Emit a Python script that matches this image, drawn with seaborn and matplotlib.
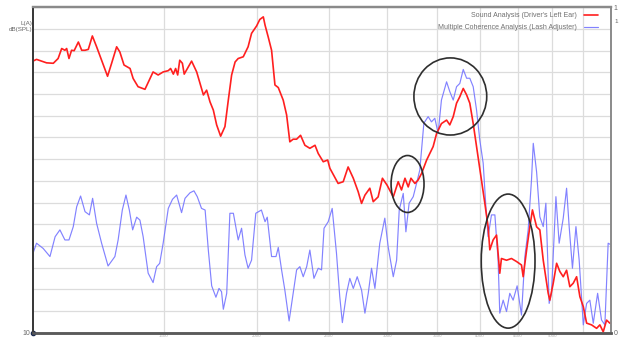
"""
Sound level vs. multiple coherence over engine speed (recreated chart).
"""

import numpy as np
import pandas as pd
import matplotlib
matplotlib.use("Agg")
import matplotlib.pyplot as plt
from matplotlib.patches import Ellipse
import seaborn as sns

# --- data ----------------------------------------------------------------------
# Sound Analysis (Driver's Left Ear): engine speed [rpm] and level [dB(SPL)]
red_rpm = [
    1000, 1011, 1027, 1043, 1065, 1081, 1093, 1104, 1110, 1118, 1127, 1136, 1151,
    1163, 1175, 1187, 1202, 1218, 1237, 1260, 1276, 1296, 1309, 1326, 1351, 1364,
    1385, 1415, 1451, 1474, 1497, 1521, 1532, 1545, 1556, 1566, 1576, 1589, 1598,
    1635, 1661, 1696, 1713, 1731, 1749, 1767, 1789, 1813, 1832, 1851, 1871, 1889,
    1919, 1948, 1969, 2000, 2020, 2042, 2053, 2073, 2095, 2117, 2139, 2172, 2195,
    2217, 2240, 2264, 2292, 2323, 2359, 2397, 2421, 2459, 2493, 2510, 2575, 2616,
    2656, 2699, 2740, 2769, 2798, 2841, 2871, 2915, 2954, 2997, 3055, 3102, 3134,
    3168, 3200, 3227, 3267, 3300, 3335, 3388, 3457, 3494, 3547, 3604, 3640, 3679,
    3717, 3755, 3795, 3835, 3873, 3914, 3955, 4016, 4058, 4099, 4121, 4164, 4208,
    4250, 4272, 4340, 4407, 4477, 4546, 4570, 4619, 4665, 4703, 4764, 4812, 4863,
    4938, 4963, 5016, 5069, 5120, 5174, 5228, 5281, 5337, 5393, 5448, 5506, 5563,
    5649, 5738, 5796, 5857, 5918, 5978,
]
red_db = [
    72.6, 73.0, 72.6, 72.2, 72.1, 73.2, 75.5, 75.1, 75.5, 73.2, 75.1, 75.0, 77.0,
    75.1, 75.1, 75.3, 78.4, 75.9, 72.8, 69.1, 72.1, 75.9, 74.7, 71.7, 70.9, 68.6,
    66.7, 66.1, 70.1, 69.4, 70.1, 70.4, 70.9, 69.6, 70.9, 69.4, 72.8, 72.1, 69.6,
    72.6, 70.1, 64.8, 65.9, 63.2, 61.3, 57.9, 55.3, 57.5, 63.6, 69.4, 72.4, 73.2,
    73.6, 75.9, 79.0, 80.7, 82.2, 82.8, 80.9, 78.2, 75.1, 67.1, 66.5, 63.6, 60.2,
    54.0, 54.6, 54.6, 55.5, 53.2, 52.5, 53.2, 51.3, 49.4, 49.8, 47.9, 44.4, 44.8,
    48.2, 45.6, 42.5, 39.8, 41.7, 43.3, 40.2, 41.3, 45.6, 44.0, 41.3, 44.8, 42.9,
    45.6, 43.6, 45.6, 44.4, 45.2, 46.7, 49.8, 52.9, 55.9, 58.2, 59.0, 57.9, 59.8,
    62.9, 64.4, 66.3, 64.8, 62.9, 58.2, 52.9, 45.2, 39.8, 34.4, 29.1, 31.4, 32.5,
    23.7, 27.1, 26.7, 27.1, 26.4, 25.6, 22.9, 29.1, 34.4, 38.3, 34.4, 33.7, 26.7,
    19.1, 17.5, 21.4, 26.0, 24.1, 22.9, 24.4, 20.6, 21.4, 22.9, 18.3, 16.0, 12.2,
    11.8, 11.0, 11.8, 10.2, 12.9, 12.2,
]

# Multiple Coherence Analysis (Lash Adjuster): engine speed [rpm] and coherence [-]
blue_rpm = [
    1000, 1011, 1032, 1054, 1071, 1087, 1104, 1118, 1133, 1145, 1159, 1175, 1191,
    1203, 1218, 1237, 1262, 1289, 1302, 1319, 1334, 1348, 1362, 1379, 1393, 1407,
    1429, 1451, 1467, 1481, 1497, 1521, 1541, 1561, 1585, 1602, 1627, 1647, 1664,
    1686, 1705, 1722, 1740, 1763, 1780, 1794, 1804, 1823, 1841, 1861, 1889, 1909,
    1929, 1948, 1969, 1995, 2030, 2053, 2067, 2095, 2124, 2139, 2161, 2183, 2212,
    2240, 2264, 2287, 2311, 2336, 2359, 2389, 2421, 2446, 2465, 2497, 2528, 2562,
    2588, 2609, 2643, 2670, 2699, 2732, 2769, 2798, 2827, 2856, 2886, 2930, 2976,
    3007, 3055, 3087, 3112, 3151, 3177, 3209, 3250, 3284, 3317, 3359, 3404, 3439,
    3475, 3511, 3547, 3604, 3640, 3679, 3717, 3755, 3795, 3835, 3873, 3914, 3955,
    3995, 4037, 4071, 4099, 4142, 4186, 4228, 4250, 4295, 4340, 4384, 4430, 4485,
    4546, 4594, 4641, 4689, 4715, 4764, 4812, 4863, 4903, 4953, 4989, 5058, 5109,
    5174, 5228, 5270, 5324, 5382, 5436, 5506, 5563, 5619, 5679, 5756, 5826, 5887,
    5947, 6000,
]
blue_coh = [
    0.244, 0.275, 0.259, 0.234, 0.295, 0.316, 0.285, 0.285, 0.326, 0.387, 0.420,
    0.372, 0.362, 0.413, 0.336, 0.275, 0.205, 0.234, 0.285, 0.377, 0.423, 0.377,
    0.316, 0.355, 0.346, 0.295, 0.183, 0.154, 0.203, 0.213, 0.275, 0.382, 0.410,
    0.423, 0.369, 0.413, 0.430, 0.436, 0.418, 0.382, 0.377, 0.254, 0.144, 0.109,
    0.136, 0.126, 0.072, 0.121, 0.367, 0.367, 0.285, 0.321, 0.239, 0.198, 0.223,
    0.367, 0.377, 0.341, 0.355, 0.234, 0.234, 0.262, 0.193, 0.131, 0.036, 0.121,
    0.193, 0.203, 0.172, 0.203, 0.254, 0.167, 0.198, 0.193, 0.321, 0.341, 0.382,
    0.244, 0.111, 0.031, 0.121, 0.167, 0.136, 0.172, 0.131, 0.060, 0.121, 0.198,
    0.136, 0.275, 0.352, 0.264, 0.172, 0.223, 0.377, 0.428, 0.310, 0.398, 0.418,
    0.459, 0.500, 0.644, 0.664, 0.648, 0.659, 0.613, 0.715, 0.771, 0.741, 0.715,
    0.756, 0.766, 0.809, 0.782, 0.782, 0.756, 0.684, 0.592, 0.521, 0.387, 0.295,
    0.362, 0.362, 0.223, 0.060, 0.100, 0.065, 0.121, 0.100, 0.144, 0.054, 0.234,
    0.316, 0.469, 0.582, 0.494, 0.356, 0.326, 0.398, 0.090, 0.121, 0.418, 0.275,
    0.352, 0.444, 0.326, 0.198, 0.326, 0.223, 0.024, 0.090, 0.100, 0.029, 0.121,
    0.039, 0.024, 0.275, 0.270,
]

x_grid_rpm = [1500, 2000, 2500, 3000, 3500, 4000, 4500, 5000, 5500]
x_grid_labels = ["1500", "2000", "2500", "3000", "3500", "4000", "4500", "5000", ""]

red_label = "Sound Analysis (Driver's Left Ear)"
blue_label = "Multiple Coherence Analysis (Lash Adjuster)"

# --- styling -------------------------------------------------------------------
sns.set_theme(style="white")
plt.rcParams["font.family"] = ["Liberation Sans", "DejaVu Sans"]

RED = "#ff1f1f"
BLUE = "#7575ff"
GRID = "#dcdcdc"

df_red = pd.DataFrame({"rpm": red_rpm, "level": red_db})
df_blue = pd.DataFrame({"rpm": blue_rpm, "coherence": blue_coh})

fig = plt.figure(figsize=(6.19, 3.37), dpi=100)
ax = fig.add_axes([0.0533, 0.0128, 0.9338, 0.9655])   # coherence (blue) + grid
ax2 = ax.twinx()                                       # level (red), drawn on top

sns.lineplot(data=df_blue, x="rpm", y="coherence", ax=ax, color=BLUE,
             linewidth=0.85, alpha=0.9, legend=False)
sns.lineplot(data=df_red, x="rpm", y="level", ax=ax2, color=RED,
             linewidth=1.2, legend=False)

ax.set_xscale("log")
ax.set_xlim(1000, 6000)
ax.set_ylim(0, 1)
ax2.set_ylim(10, 85)

ax.set_xticks(x_grid_rpm)
ax.set_xticklabels(x_grid_labels)
ax.xaxis.set_minor_locator(matplotlib.ticker.NullLocator())

ax.set_yticks(np.linspace(0, 1, 16))
ax.set_yticklabels(["0"] + [""] * 14 + ["1"])
ax.yaxis.tick_right()
ax2.yaxis.tick_left()
ax2.set_yticks([10])
ax2.set_yticklabels(["10"])

ax.grid(True, color=GRID, linewidth=0.9)
ax2.grid(False)
ax.set_axisbelow(True)

for a in (ax, ax2):
    a.set_xlabel("")
    a.set_ylabel("")
    a.tick_params(length=0)

ax.tick_params(axis="x", labelsize=3.2, labelcolor="#b0b0b0", pad=0.6)
ax.tick_params(axis="y", labelsize=5, labelcolor="#666666", pad=2)
ax2.tick_params(axis="y", labelsize=5, labelcolor="#666666", pad=2)

for a in (ax, ax2):
    a.spines["top"].set_color("#8a8a8a")
    a.spines["top"].set_linewidth(1.6)
    a.spines["right"].set_color("#8a8a8a")
    a.spines["right"].set_linewidth(1.2)
    a.spines["left"].set_color("#3a3a3a")
    a.spines["left"].set_linewidth(1.4)
    a.spines["bottom"].set_color("#5a5a5a")
    a.spines["bottom"].set_linewidth(1.8)

# unit label on the left axis, extra right axis mark
fig.text(0.052, 0.921, "L(A)\ndB(SPL)", ha="right", va="center",
         fontsize=4.5, color="#666666", linespacing=1.2)
fig.text(0.992, 0.937, "1", ha="left", va="center", fontsize=4.5, color="#666666")

# origin marker
ax.plot([0], [0], "o", ms=3, color="#1c2b4f", transform=ax.transAxes,
        clip_on=False, zorder=10)

# legend: labels right-aligned, handles after the text
handles = [ax2.get_lines()[0], ax.get_lines()[0]]
leg = ax2.legend(handles, [red_label, blue_label], loc="upper right",
                 bbox_to_anchor=(0.977, 0.985), frameon=False, markerfirst=False,
                 fontsize=5, handlelength=2.0, handletextpad=1.0,
                 labelspacing=0.75, borderaxespad=0, borderpad=0)
for t in leg.get_texts():
    t.set_color("#707070")

# highlight circles drawn on the picture
for cx, cy, w, h in [(0.648, 0.457, 0.057, 0.175),
                     (0.722, 0.726, 0.126, 0.237),
                     (0.822, 0.220, 0.093, 0.412)]:
    ax2.add_patch(Ellipse((cx, cy), w, h, transform=ax2.transAxes, fill=False,
                          edgecolor="#2e2e2e", linewidth=1.2, zorder=5))

fig.savefig("out.png", dpi=100)
plt.close(fig)
